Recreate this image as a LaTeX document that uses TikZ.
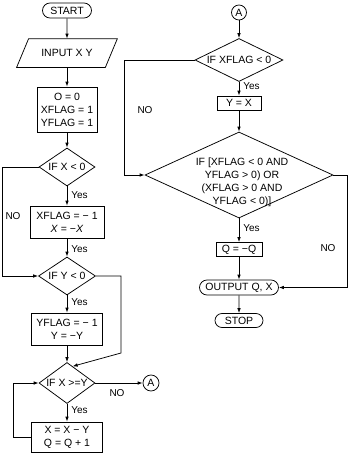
\documentclass[tikz,border=0pt]{standalone}
\usepackage{fontspec}
\setmainfont{Liberation Sans}
\usetikzlibrary{shapes.geometric,shapes.misc,arrows.meta,calc}
\begin{document}
\begin{tikzpicture}[x=1pt,y=-1pt,
  font=\fontsize{10.5}{13}\selectfont,
  line width=0.75pt,
  arr/.style={-{Latex[length=5pt,width=3.6pt]}},
  term/.style={rounded rectangle,draw,minimum height=15pt,inner sep=0pt},
  procbox/.style={rectangle,draw,align=center,inner sep=0pt},
  dec/.style={diamond,draw,inner sep=0pt,align=center},
  conn/.style={circle,draw,inner sep=0pt,minimum size=15pt},
  lbl/.style={inner sep=0pt,font=\fontsize{10}{11}\selectfont},
]
\useasboundingbox (0,0) rectangle (357,461);
% left column
\node[term,minimum width=49pt] (start) at (67,10.5) {START};
\node[minimum width=100pt,minimum height=28pt,inner sep=0pt] (input) at (67,53) {INPUT X Y};
\draw ($(input.north west)+(12,0)$) -- (input.north east) -- ($(input.south east)+(-12,0)$) -- (input.south west) -- cycle;
\node[procbox,minimum width=60pt,minimum height=45pt] (init) at (67,109.5) {O = 0\\XFLAG = 1\\YFLAG = 1};
\node[dec,minimum width=56pt,minimum height=38pt,aspect=1.47] (d1) at (67,167) {IF X < 0};
\node[procbox,minimum width=74pt,minimum height=32pt] (b2) at (67,222) {XFLAG = − 1\\\textit{X} = −\textit{X}};
\node[dec,minimum width=57pt,minimum height=38pt,aspect=1.5] (d2) at (67,276) {IF Y < 0};
\node[procbox,minimum width=71pt,minimum height=32pt] (b3) at (67,329) {YFLAG = − 1\\Y = −Y};
\node[dec,minimum width=56pt,minimum height=41pt,aspect=1.34] (d3) at (67,383) {IF X >=Y};
\node[procbox,minimum width=71pt,minimum height=30pt] (b4) at (67,437) {X = X − Y\\Q = Q + 1};
\node[conn,minimum size=16pt] (A1) at (151,383) {A};
% right column
\node[conn] (A2) at (239,12.5) {A};
\node[dec,minimum width=88pt,minimum height=43pt,aspect=2] (d4) at (239,60) {IF XFLAG < 0};
\node[procbox,minimum width=44pt,minimum height=14pt] (b5) at (239,103) {Y = X};
\node[dec,minimum width=188pt,minimum height=86pt] (d5) at (239,175) {};
\node[align=center,inner sep=0pt] (d5text) at (242,182.5) {IF [XFLAG < 0 AND\\YFLAG > 0) OR\\(XFLAG > 0 AND\\YFLAG < 0)]};
\node[procbox,minimum width=46pt,minimum height=14pt] (b6) at (239,249.5) {Q = −Q};
\node[term,minimum width=79pt] (out) at (239,287.5) {OUTPUT Q, X};
\node[term,minimum width=48pt,minimum height=14pt] (stop) at (239,320.5) {STOP};
% labels
\node[lbl,anchor=west] (y1) at (71,195) {Yes};
\node[lbl,anchor=west] (y2) at (71,249) {Yes};
\node[lbl,anchor=west] (y3) at (71,302) {Yes};
\node[lbl,anchor=west] (y4) at (71,410) {Yes};
\node[lbl,anchor=west] (y5) at (243,86) {Yes};
\node[lbl,anchor=west] (y6) at (243,228) {Yes};
\node[lbl] (n1) at (13,216) {NO};
\node[lbl] (n2) at (145,110) {NO};
\node[lbl] (n3) at (117,393) {NO};
\node[lbl] (n4) at (328,248) {NO};
% connectors
\draw[arr] (start) -- (input);
\draw[arr] (input) -- (init);
\draw[arr] (init) -- (d1);
\draw[arr] (d1) -- (b2);
\draw[arr] (b2) -- (d2);
\draw[arr] (d2) -- (b3);
\draw[arr] (b3) -- (d3);
\draw[arr] (d3) -- (b4);
\coordinate (nl) at (2,167);
\draw[arr] (d1.west) -- (nl) |- (d2.west);
\coordinate (r1) at (121,353);
\draw[arr] (d2.east) -| (r1) -- ($(d3.north)!0.2!(d3.east)$);
\coordinate (l4) at (13,437);
\draw[arr] (b4.west) -- (l4) |- (d3.west);
\draw[arr] (d3.east) -- (A1);
\draw[arr] (A2) -- (d4);
\draw[arr] (d4) -- (b5);
\draw[arr] (b5) -- (d5);
\coordinate (l5) at (124,60);
\draw[arr] (d4.west) -- (l5) |- (d5.west);
\draw[arr] (d5) -- (b6);
\draw[arr] (b6) -- (out);
\draw[arr] (out) -- (stop);
\coordinate (r5) at (347,175);
\draw[arr] (d5.east) -- (r5) |- (out.east);
\end{tikzpicture}
\end{document}
